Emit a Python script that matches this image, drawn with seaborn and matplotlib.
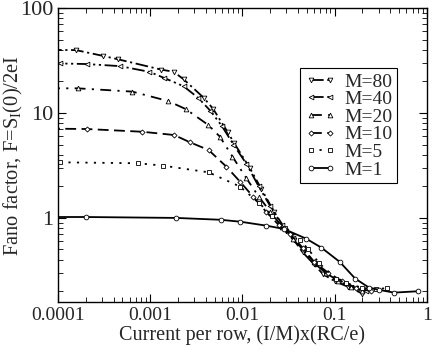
import matplotlib
matplotlib.use("Agg")
import numpy as np
import pandas as pd
import matplotlib.pyplot as plt
import seaborn as sns

# Fano factor vs current per row
x_m80 = [0.00008, 0.000157, 0.00031, 0.00045, 0.0013, 0.0018, 0.0023, 0.0038, 0.0048, 0.0069,
         0.0081, 0.012, 0.016, 0.022, 0.03, 0.036, 0.045, 0.06, 0.075, 0.1, 0.14, 0.2]
f_m80 = [40, 39.8, 35, 32.5, 26, 24.7, 21, 14, 11, 6.6,
         5.2, 3.0, 1.9, 1.15, 0.75, 0.62, 0.47, 0.36, 0.29, 0.25, 0.22, 0.19]

x_m40 = [0.00008, 0.000105, 0.000205, 0.00047, 0.00098, 0.0014, 0.0023, 0.0033, 0.0045, 0.006,
         0.008, 0.011, 0.015, 0.02, 0.027, 0.035, 0.045, 0.06, 0.08, 0.11, 0.15, 0.22]
f_m40 = [29.8, 29.7, 29.3, 28, 24.7, 21.7, 18, 14, 10.5, 7.5,
         5.0, 3.3, 2.0, 1.3, 0.85, 0.65, 0.5, 0.37, 0.3, 0.25, 0.22, 0.2]

x_m20 = [0.00008, 0.000163, 0.00064, 0.00157, 0.00243, 0.00426, 0.0057, 0.0078, 0.011, 0.015,
         0.02, 0.027, 0.035, 0.045, 0.06, 0.08, 0.11, 0.15, 0.2]
f_m20 = [17.2, 17.2, 16.0, 13.0, 10.9, 7.7, 5.95, 3.84, 2.4, 1.6,
         1.15, 0.82, 0.63, 0.5, 0.38, 0.3, 0.25, 0.22, 0.2]

x_m10 = [0.00008, 0.000205, 0.00082, 0.00182, 0.0027, 0.0043, 0.0067, 0.0095, 0.013, 0.018,
         0.025, 0.033, 0.045, 0.06, 0.085, 0.12, 0.17, 0.25]
f_m10 = [7.1, 7.04, 6.63, 6.17, 5.26, 4.44, 3.08, 2.2, 1.6, 1.15,
         0.85, 0.7, 0.52, 0.38, 0.3, 0.25, 0.215, 0.2]

x_m5 = [0.000105, 0.00074, 0.00138, 0.0043, 0.0094, 0.015, 0.021, 0.029, 0.042, 0.052,
        0.068, 0.104, 0.132, 0.2, 0.28, 0.37]
f_m5 = [3.39, 3.32, 3.15, 2.72, 1.99, 1.4, 1.05, 0.81, 0.62, 0.5,
        0.37, 0.26, 0.24, 0.215, 0.21, 0.214]

x_m1 = [0.00008, 0.0002, 0.0019, 0.0058, 0.0095, 0.018, 0.028, 0.049, 0.072, 0.114,
        0.167, 0.235, 0.304, 0.44, 0.81]
f_m1 = [1.02, 1.02, 1.0, 0.96, 0.92, 0.845, 0.786, 0.635, 0.52, 0.38,
        0.264, 0.217, 0.206, 0.194, 0.2]

labels = ["M=80", "M=40", "M=20", "M=10", "M=5", "M=1"]
curves = [(x_m80, f_m80), (x_m40, f_m40), (x_m20, f_m20), (x_m10, f_m10), (x_m5, f_m5), (x_m1, f_m1)]
markers = ["v", "<", "^", "D", "s", "o"]
styles = [(0, (7, 2, 1.2, 2)), (0, (7, 2, 1.2, 2, 1.2, 2)), (0, (6, 3.5, 1.2, 3.5)),
          (0, (6, 3)), (0, (1.2, 3.5)), "-"]
msizes = [3.4, 3.4, 3.4, 2.6, 3.0, 3.4]

sns.set_style("ticks")
plt.rcParams["font.family"] = ["Liberation Serif", "DejaVu Serif"]
plt.rcParams["mathtext.fontset"] = "custom"
plt.rcParams["mathtext.rm"] = "Liberation Serif"
plt.rcParams["mathtext.it"] = "Liberation Serif:italic"

fig = plt.figure(figsize=(4.36, 3.54), dpi=100)
ax = fig.add_axes([0.133, 0.147, 0.846, 0.83])

for (xs, fs), lab, mk, ls, ms in zip(curves, labels, markers, styles, msizes):
    df = pd.DataFrame({"x": xs, "F": fs})
    sns.lineplot(data=df, x="x", y="F", ax=ax, color="k", lw=1.3, linestyle=ls,
                 marker=mk, markersize=ms, markerfacecolor="white", markeredgecolor="k",
                 markeredgewidth=0.6, label=lab, sort=False, estimator=None)

ax.set_xscale("log")
ax.set_yscale("log")
ax.set_xlim(0.0001, 1)
ax.set_ylim(0.158, 100)
ax.set_xticks([0.0001, 0.001, 0.01, 0.1, 1])
ax.set_xticklabels(["0.0001", "0.001", "0.01", "0.1", "1"])
ax.set_yticks([1, 10, 100])
ax.set_yticklabels(["1", "10", "100"])
ax.tick_params(which="both", direction="in", top=True, right=True, color="k")
ax.tick_params(axis="x", labelsize=14)
ax.tick_params(axis="y", labelsize=16)
ax.tick_params(which="major", length=6, width=0.8)
ax.tick_params(which="minor", length=3.5, width=0.6)
for s in ax.spines.values():
    s.set_color("k")
    s.set_linewidth(1.0)

ax.set_xlabel("Current per row, (I/M)x(RC/e)", fontsize=14.5, labelpad=1)
ax.set_ylabel("Fano factor, F=S$_\\mathrm{I}$(0)/2eI", fontsize=14.8)
ax.yaxis.set_label_coords(-0.09, 0.5)

leg = ax.legend(loc="upper right", bbox_to_anchor=(0.919, 0.796), fontsize=14,
                handlelength=1.6, handletextpad=0.4, numpoints=2, fancybox=False,
                framealpha=1, edgecolor="k", borderpad=0.25, labelspacing=0.0,
                borderaxespad=0)
leg.get_frame().set_linewidth(0.8)

fig.savefig("out.png", dpi=100)
